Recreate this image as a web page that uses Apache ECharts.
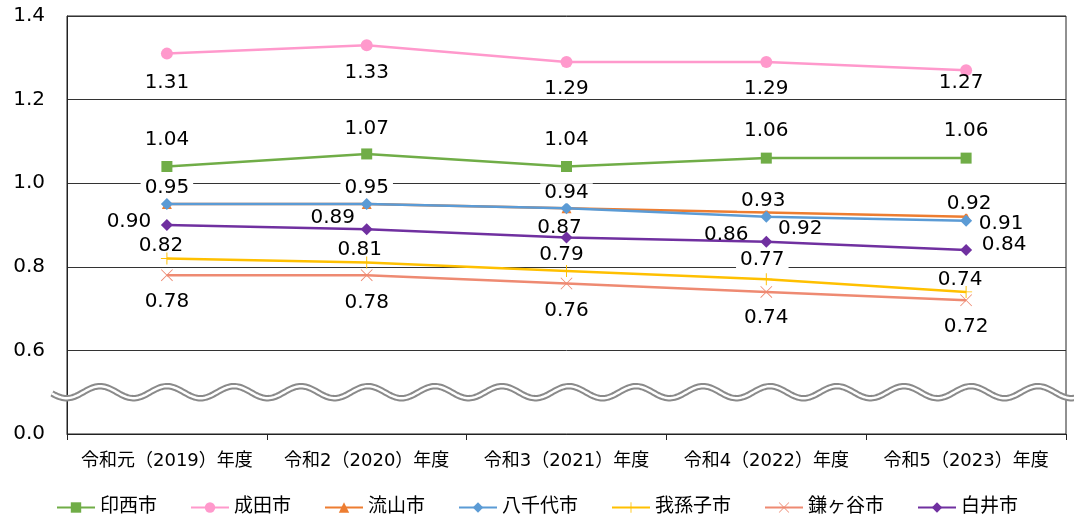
<!DOCTYPE html>
<html><head><meta charset="utf-8">
<script src="https://cdn.jsdelivr.net/npm/echarts@6/dist/echarts.min.js"></script>
<style>html,body{margin:0;padding:0;background:#fff}#c{width:1074px;height:519px}</style>
</head><body><div id="c"></div>
<script>
// ---- data ----
const categories = ['令和元（2019）年度','令和2（2020）年度','令和3（2021）年度','令和4（2022）年度','令和5（2023）年度'];
const yTickLabels = ['0.0','0.6','0.8','1.0','1.2','1.4'];
const inzai     = [1.04, 1.07, 1.04, 1.06, 1.06];
const narita    = [1.31, 1.33, 1.29, 1.29, 1.27];
const nagareyama= [0.95, 0.95, 0.94, 0.93, 0.92];
const yachiyo   = [0.95, 0.95, 0.94, 0.92, 0.91];
const abiko     = [0.82, 0.81, 0.79, 0.77, 0.74];
const kamagaya  = [0.78, 0.78, 0.76, 0.74, 0.72];
const shiroi    = [0.90, 0.89, 0.87, 0.86, 0.84];

// ---- styles ----
const FONT = '"DejaVu Sans", "Noto Sans CJK JP", sans-serif';
const PLUS = 'path://M4.6,0 H5.4 V10 H4.6 Z M0,4.6 H10 V5.4 H0 Z';
const CROSS = 'path://M0.5,0 L10,9.5 L9.5,10 L0,0.5 Z M9.5,0 L10,0.5 L0.5,10 L0,9.5 Z';

function mk(name, values, color, symbol, size, offsets, opts) {
  opts = opts || {};
  return {
    name, type: 'line', symbol, symbolSize: size,
    lineStyle: { color, width: 2.5 },
    itemStyle: { color },
    emphasis: { disabled: true },
    data: values.map((v, i) => {
      const lab = {
        show: !(opts.hide && opts.hide.includes(i)),
        position: 'inside', offset: offsets[i],
        fontSize: 20, color: '#000', fontFamily: FONT,
        formatter: (p) => Number(p.value).toFixed(2)
      };
      if (opts.bg && opts.bg.includes(i)) { lab.backgroundColor = '#fff'; lab.padding = [0, 4]; }
      return { value: v, label: lab };
    })
  };
}

const series = [
  mk('印西市', inzai, '#70AD47', 'rect', 11, [[0,-27],[0,-25],[0,-27],[0,-27],[0,-27]]),
  mk('成田市', narita, '#FF99CC', 'circle', 12, [[0,29],[0,28],[0,27],[0,27],[-5,12]]),
  mk('流山市', nagareyama, '#ED7D31', 'triangle', 10, [[0,-16],[0,-16],[0,-15],[-3,-12],[3,-13]], {bg:[0,1,2,3,4]}),
  mk('八千代市', yachiyo, '#5B9BD5', 'diamond', 12, [[0,-16],[0,-16],[0,-15],[34,12],[35,3]], {hide:[0,1,2]}),
  mk('我孫子市', abiko, '#FFC000', PLUS, 12, [[-6,-13],[-7,-13],[-5,-16],[-4,-20],[-6,-12]], {bg:[3]}),
  mk('鎌ヶ谷市', kamagaya, '#EE8A72', CROSS, 12, [[0,27],[0,28],[0,27],[0,26],[0,27]]),
  mk('白井市', shiroi, '#7030A0', 'diamond', 12, [[-38,-3],[-34,-11],[-7,-10],[-40,-7],[38,-5]])
];

const chart = echarts.init(document.getElementById('c'), null, { renderer: 'canvas' });
chart.setOption({
  animation: false,
  backgroundColor: '#fff',
  grid: { left: 67, right: 8, top: 16, bottom: 85, show: true, borderColor: '#222', borderWidth: 1 },
  xAxis: {
    type: 'category', data: categories,
    axisLine: { lineStyle: { color: '#222', width: 1 } },
    axisTick: { show: true, length: 6, lineStyle: { color: '#222' } },
    axisLabel: { interval: 0, fontSize: 18, color: '#000', fontFamily: FONT, margin: 18 }
  },
  yAxis: {
    type: 'value', min: 0.4, max: 1.4, interval: 0.2,
    axisLine: { show: true, lineStyle: { color: '#222', width: 1 } },
    axisTick: { show: false },
    splitLine: { lineStyle: { color: '#333', width: 1 } },
    axisLabel: {
      fontSize: 20, color: '#000', fontFamily: FONT, margin: 22,
      formatter: (v) => yTickLabels[Math.round((v - 0.4) / 0.2)]
    }
  },
  legend: {
    top: 498, left: 'center', padding: 0, itemWidth: 38, itemHeight: 13, itemGap: 33,
    textStyle: { fontSize: 19, lineHeight: 15, color: '#000', fontFamily: FONT },
    data: series.map(s => s.name)
  },
  series
});

// broken-axis wave decoration
const yMid = chart.convertToPixel({ yAxisIndex: 0 }, 0.5);
const pts = [];
for (let x = 52; x <= 1080; x += 1.5) {
  pts.push([x, yMid - 6 * Math.cos(2 * Math.PI * (x - 100) / 67)]);
}
chart.setOption({
  graphic: [
    { type: 'polyline', shape: { points: pts }, style: { stroke: '#8a8a8a', lineWidth: 6.5, fill: null }, z: 100 },
    { type: 'polyline', shape: { points: pts }, style: { stroke: '#ffffff', lineWidth: 2.5, fill: null }, z: 101 }
  ]
});
</script>
</body></html>
